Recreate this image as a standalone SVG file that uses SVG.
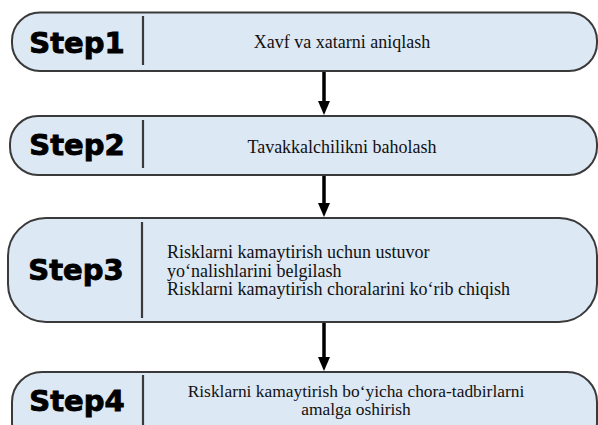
<svg xmlns="http://www.w3.org/2000/svg" width="598" height="425" viewBox="0 0 598 425">
  <style>
    .box { fill: #dde8f5; stroke: #3a3a3a; stroke-width: 2; }
    .div { stroke: #3a3a3a; stroke-width: 2.2; }
    .step { font-family: "DejaVu Sans", Verdana, sans-serif; font-weight: bold; font-size: 29px; fill: #000; stroke: #000; stroke-width: 0.9; text-anchor: middle; }
    .txt { font-family: "Liberation Serif", "Times New Roman", serif; font-size: 18px; fill: #111; }
    .txt4 { font-family: "Liberation Serif", "Times New Roman", serif; font-size: 17.4px; fill: #111; text-anchor: middle; }
    .edge { stroke: #000; stroke-width: 3.5; fill: none; }
    .head { fill: #000; }
  </style>

  <g id="connectors">
    <line class="edge" x1="324" y1="71" x2="324" y2="102"/>
    <path class="head" d="M318,101 L330,101 L324,115 Z"/>
    <line class="edge" x1="324" y1="175" x2="324" y2="204"/>
    <path class="head" d="M318,203 L330,203 L324,217 Z"/>
    <line class="edge" x1="324" y1="322" x2="324" y2="358"/>
    <path class="head" d="M318,357 L330,357 L324,371 Z"/>
  </g>

  <g id="step1">
    <rect class="box" x="12" y="12.5" width="585" height="58.5" rx="28" ry="28"/>
    <line class="div" x1="143" y1="16" x2="143" y2="65"/>
    <text class="step" x="77" y="53">Step1</text>
    <text class="txt" x="342" y="48" text-anchor="middle">Xavf va xatarni aniqlash</text>
  </g>

  <g id="step2">
    <rect class="box" x="10" y="116" width="587" height="59" rx="28" ry="28"/>
    <line class="div" x1="143" y1="120" x2="143" y2="168"/>
    <text class="step" x="77" y="155">Step2</text>
    <text class="txt" x="342" y="153" text-anchor="middle">Tavakkalchilikni baholash</text>
  </g>

  <g id="step3">
    <rect class="box" x="8" y="218" width="589" height="104" rx="38" ry="38"/>
    <line class="div" x1="142" y1="222" x2="142" y2="318"/>
    <text class="step" x="76" y="280">Step3</text>
    <text class="txt" x="167" y="258">Risklarni kamaytirish uchun ustuvor</text>
    <text class="txt" x="167" y="276.5">yo‘nalishlarini belgilash</text>
    <text class="txt" x="167" y="294.5">Risklarni kamaytirish choralarini ko‘rib chiqish</text>
  </g>

  <g id="step4">
    <rect class="box" x="12" y="372" width="585" height="80" rx="30" ry="30"/>
    <line class="div" x1="143" y1="375" x2="143" y2="425"/>
    <text class="step" x="77" y="411">Step4</text>
    <text class="txt4" x="356" y="396.5">Risklarni kamaytirish bo‘yicha chora-tadbirlarni</text>
    <text class="txt4" x="356" y="414.5">amalga oshirish</text>
  </g>
</svg>
